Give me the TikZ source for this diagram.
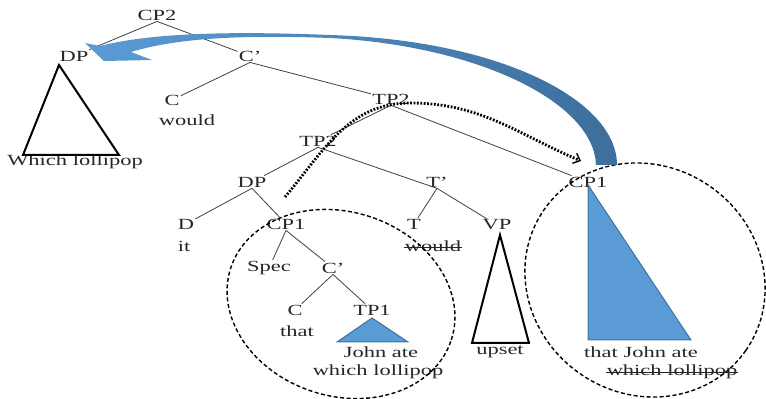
\documentclass[tikz,border=0pt]{standalone}
\usepackage{fontspec}
\setmainfont{Liberation Serif}[FakeStretch=1.45]
\usetikzlibrary{arrows.meta}
\definecolor{txt}{HTML}{262626}
\definecolor{lnk}{HTML}{404040}
\definecolor{triblue}{HTML}{5B9BD5}
\definecolor{triedge}{HTML}{41719C}
\definecolor{arcL}{HTML}{5B9BD5}
\definecolor{arcR}{HTML}{3D6E9C}

\begin{document}
\begin{tikzpicture}[x=1pt,y=1pt,
cat/.style={inner sep=1pt, text=txt, font=\fontsize{15.5}{18}\selectfont},
struck/.style={path picture={\draw[txt, line width=0.8pt]
  ([yshift=#1]path picture bounding box.west) -- ([yshift=#1]path picture bounding box.east);}},
branch/.style={draw=lnk, line width=0.8pt},
tri/.style={draw=black, line width=2pt},
bluetri/.style={fill=triblue, draw=triedge, line width=1pt},
ring/.style={draw=black, line width=1.4pt, dash pattern=on 4pt off 2.5pt},
move/.style={line width=2.8pt, dash pattern=on 1.8pt off 1.6pt,
  -{Straight Barb[length=6pt,width=11pt,line width=1.4pt]}}]

\useasboundingbox (0,0) rectangle (766,399);

%% local variables
\def \cx {341}
\def \cy {95}

%% matrix clause
\node[cat] (CP2) at (157,384) {CP2};
\node[cat] (DPw) at (74,343) {DP};
\node[cat] (which) at (75,237) {Which lollipop};
\node[cat] (Cbar) at (250,343) {C'};
\node[cat] (Cw) at (172,299) {C};
\node[cat] (wouldA) at (187,279) {would};
\node[cat] (TPtop) at (391,300) {TP2};
\node[cat] (TPlow) at (318,258) {TP2};

%% subject DP with its CP1
\node[cat] (DPit) at (252,217) {DP};
\node[cat] (Dit) at (186,175) {D};
\node[cat] (it) at (184,153) {it};
\node[cat] (CPin) at (286,175) {CP1};
\node[cat] (Spec) at (269,131) {Spec};
\node[cat] (Cbarin) at (333,131) {C'};
\node[cat] (Cthat) at (295,89) {C};
\node[cat] (that) at (297,68) {that};
\node[cat] (TPone) at (372,89) {TP1};
\node[cat] (john) at (381,47) {John ate};
\node[cat] (lolA) at (378,27) {which lollipop};

%% T' and VP
\node[cat] (Tbar) at (437,217) {T'};
\node[cat] (Tw) at (414,175) {T};
\node[cat, struck=-1.5pt] (wouldB) at (433,153) {would};
\node[cat] (VP) at (497,174) {VP};
\node[cat] (upset) at (500,47) {upset};

%% extraposed CP1
\node[cat] (CPout) at (588,217) {CP1};
\node[cat] (thatJ) at (641,47) {that John ate};
\node[cat, struck=0pt] (lolB) at (672,27) {which lollipop\hspace{5pt}};

%% branches
\foreach \p/\c in {CP2/DPw, CP2/Cbar, Cbar/Cw, Cbar/TPtop, TPtop/TPlow, TPtop/CPout,
                   TPlow/DPit, DPit/Dit, DPit/CPin, CPin/Spec, CPin/Cbarin,
                   Cbarin/Cthat, Cbarin/TPone, Tbar/Tw}
      \draw[branch] (\p.south) -- (\c);
\draw[branch] (TPlow.south) -- (Tbar.south) -- (VP);

%% triangles
\draw[tri] (59,334) -- (23,244) -- (119,244) -- cycle;
\draw[tri] (500,164) -- (472,56) -- (529,56) -- cycle;
\draw[bluetri] (372,81) -- (337,57) -- (408,57) -- cycle;
\draw[bluetri] (588,214) -- (588,59) -- (691,59) -- cycle;

%% circled constituents
\draw[ring, rotate around={-18:(\cx,\cy)}] (\cx,\cy) ellipse [x radius=116pt, y radius=92pt];
\draw[ring, rotate around={-35:(645,119)}] (645,119) ellipse [x radius=123pt, y radius=114pt];

%% movement arrows
\coordinate (mvS) at (285,202);
\coordinate (mvE) at (581,238);
\draw[move] (mvS) to[out=50,in=180] (410,296) to[out=0,in=157] (mvE);

\shade[left color=arcL, right color=arcR]
  (85,356) -- (104,338) -- (152,339) -- (131,347)
  .. controls (180,362) and (250,364) .. (330,361)
  .. controls (480,353) and (594,296) .. (596,234)
  -- (617,234)
  .. controls (617,299) and (500,359) .. (330,364)
  .. controls (230,368) and (150,366) .. (100,353)
  -- cycle;

\end{tikzpicture}
\end{document}
